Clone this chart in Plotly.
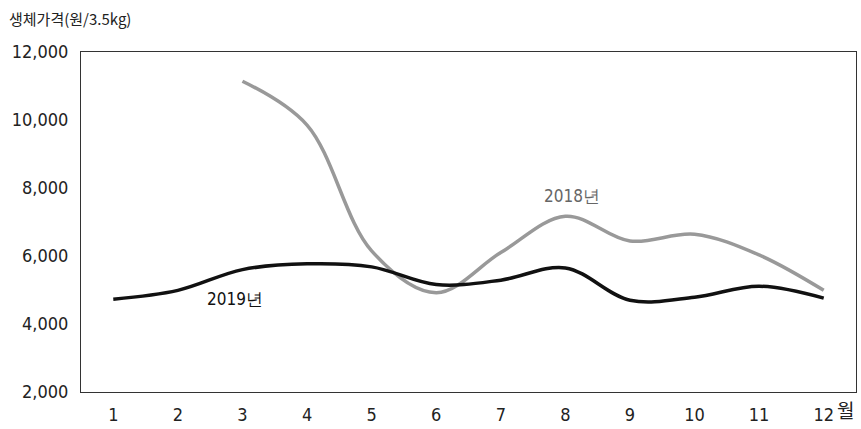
import plotly.graph_objects as go

# Monthly live-hog prices (won per 3.5 kg)
months = ["1", "2", "3", "4", "5", "6", "7", "8", "9", "10", "11", "12"]
price_2019 = [4730, 4990, 5600, 5770, 5680, 5160, 5290, 5650, 4700, 4790, 5110, 4760]
months_2018 = ["3", "4", "5", "6", "7", "8", "9", "10", "11", "12"]
price_2018 = [11140, 9850, 6150, 4920, 6100, 7170, 6440, 6640, 6030, 4990]
y_ticks = [2000, 4000, 6000, 8000, 10000, 12000]

narrow = "DejaVu Sans Condensed, Liberation Sans Narrow, sans-serif"
tick_font = dict(family=narrow, size=18, color="#222")

fig = go.Figure()
fig.add_trace(go.Scatter(
    x=months_2018, y=price_2018, mode="lines",
    line=dict(color="#999999", width=3.5, shape="spline", smoothing=1.0),
    showlegend=False, hoverinfo="skip"))
fig.add_trace(go.Scatter(
    x=months, y=price_2019, mode="lines",
    line=dict(color="#111111", width=3.5, shape="spline", smoothing=1.0),
    showlegend=False, hoverinfo="skip"))

fig.update_layout(
    width=861, height=429,
    margin=dict(l=81, r=4, t=52, b=33),
    paper_bgcolor="white", plot_bgcolor="white",
    xaxis=dict(type="category", categoryorder="array", categoryarray=months,
               range=[-0.5, 11.5], showgrid=False, zeroline=False,
               showline=True, linecolor="#333", linewidth=1, mirror=True,
               ticks="", tickfont=tick_font, ticklabelstandoff=6),
    yaxis=dict(range=[2000, 12000], tickvals=y_ticks,
               ticktext=[f"{v:,}" for v in y_ticks],
               showgrid=False, zeroline=False,
               showline=True, linecolor="#333", linewidth=1, mirror=True,
               ticks="", tickfont=tick_font, ticklabelstandoff=8),
    annotations=[
        dict(text="생체가격(원/3.5kg)", xref="paper", yref="paper", x=-0.095, y=1.0,
             yshift=34, xanchor="left", yanchor="middle", showarrow=False,
             font=dict(family="Noto Sans CJK KR", size=15, color="#222")),
        dict(text="월", xref="paper", yref="paper", x=1.0, y=0, yshift=-17,
             xanchor="right", yanchor="middle", showarrow=False,
             font=dict(family="Noto Sans CJK KR", size=19, color="#222")),
        # x positions given as category indices on the month axis
        dict(text="2019년", xref="x", yref="y", x=1.88, y=4750,
             xanchor="center", yanchor="middle", showarrow=False,
             font=dict(family=narrow, size=17, color="#111")),
        dict(text="2018년", xref="x", yref="y", x=7.1, y=7760,
             xanchor="center", yanchor="middle", showarrow=False,
             font=dict(family=narrow, size=17, color="#666")),
    ],
)

fig.write_html("out.html")
